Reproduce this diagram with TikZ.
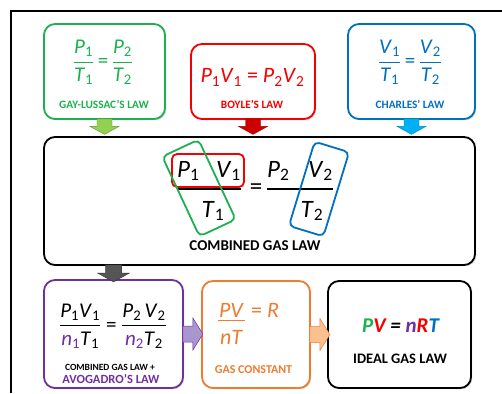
\documentclass[tikz,border=0pt]{standalone}
\usepackage{fontspec}
\usepackage{amsmath}
\setmainfont{Carlito}
\usetikzlibrary{shadows,calc}
\definecolor{cgreen}{RGB}{30,176,80}
\definecolor{cred}{RGB}{245,0,0}
\definecolor{cblue}{RGB}{0,112,192}
\definecolor{cpurple}{RGB}{112,48,160}
\definecolor{corange}{RGB}{237,125,49}
\definecolor{agreen}{RGB}{146,208,80}
\definecolor{ared}{RGB}{205,0,0}
\definecolor{ablue}{RGB}{0,176,240}
\definecolor{agray}{RGB}{85,85,85}
\definecolor{apurple}{RGB}{170,150,206}
\definecolor{aorange}{RGB}{250,192,144}
\newcommand\vv[2]{\textit{#1}\textsubscript{#2}}
\newcommand\myfr[2]{\genfrac{}{}{1pt}{0}{\mbox{#1}}{\mbox{#2}}}
\tikzset{
  box/.style={draw, line width=1.8pt, rounded corners=11pt, fill=white,
    drop shadow={shadow xshift=1.2pt, shadow yshift=-1.2pt, opacity=0.35}},
  lbl/.style={font=\fontsize{11.3}{13}\selectfont\bfseries, inner sep=0pt},
  eqn/.style={inner sep=0pt},
  pics/downarr/.style={code={\path[pic actions] (-7.5,-1) -- (7.5,-1) -- (7.5,6.5) -- (14.5,6.5) -- (0,14.5) -- (-14.5,6.5) -- (-7.5,6.5) -- cycle;}},
  pics/rightarr/.style={code={\path[pic actions] (-1,-8) -- (9,-8) -- (9,-16) -- (19,0) -- (9,16) -- (9,8) -- (-1,8) -- cycle;}},
}
\begin{document}
\begin{tikzpicture}[x=1pt,y=-1pt]
\useasboundingbox (0,0) rectangle (502,393);
\fill[white] (0,0) rectangle (502,393);
\draw[line width=2pt] (502,11) -- (11,11) -- (11,393);
% top boxes
\node[box, draw=cgreen, minimum width=121pt, minimum height=95pt] (gl) at (104.5,71.5) {};
\node[box, draw=cred, minimum width=124pt, minimum height=75pt] (bl) at (253,81.5) {};
\node[box, draw=cblue, minimum width=127pt, minimum height=95pt] (cl) at (411.5,71.5) {};
\node[eqn, text=cgreen, font=\fontsize{21}{24}\selectfont] (gleq) at (103,62.5) {$\myfr{\vv P1}{\vv T1}\,\mbox{=}\,\myfr{\vv P2}{\vv T2}$};
\node[lbl, text=cgreen] (gllbl) at (104,104) {GAY-LUSSAC’S LAW};
\node[eqn, text=cred, font=\fontsize{22}{26}\selectfont, anchor=base] (bleq) at (252.5,83) {\vv P1\vv V1 = \vv P2\vv V2};
\node[lbl, text=cred] (bllbl) at (252,104) {BOYLE’S LAW};
\node[eqn, text=cblue, font=\fontsize{21}{24}\selectfont] (cleq) at (410,62.5) {$\myfr{\vv V1}{\vv T1}\,\mbox{=}\,\myfr{\vv V2}{\vv T2}$};
\node[lbl, text=cblue] (cllbl) at (410,104) {CHARLES’ LAW};
% combined box
\node[box, draw=black, minimum width=431pt, minimum height=128pt] (cgl) at (259.5,201) {};
\pic[fill=agreen, draw=agreen!70!black, line width=0.4pt] at (gl.south) {downarr};
\pic[fill=ared, draw=ared!80!black, line width=0.4pt] at (bl.south) {downarr};
\pic[fill=ablue, draw=ablue!80!black, line width=0.4pt] at (cl.south) {downarr};
\begin{scope}[every node/.style={eqn, font=\fontsize{25}{30}\selectfont}]
\node[anchor=base west] (p1) at (177,177) {\vv P1};
\node[anchor=base east] (v1) at (241,177) {\vv V1};
\node[anchor=base] (t1) at (213,217) {\vv T1};
\node (eq1) at (256,189) {=};
\node[anchor=base west] (p2) at (267,177) {\vv P2};
\node[anchor=base east] (v2) at (333,177) {\vv V2};
\node[anchor=base] (t2) at (312,217) {\vv T2};
\end{scope}
\draw[line width=1.3pt] (p1.west |- 0,189) -- (v1.east |- 0,189);
\draw[line width=1.3pt] (p2.west |- 0,189) -- (v2.east |- 0,189);
\node[draw=cred, line width=1.8pt, rounded corners=5pt, minimum width=72pt, minimum height=33pt] (redr) at (208,170.5) {};
\node[draw=cgreen, line width=1.8pt, rounded corners=5pt, minimum width=40pt, minimum height=88pt, rotate=25] (grnr) at (199,188) {};
\node[draw=cblue, line width=1.8pt, rounded corners=5pt, minimum width=36pt, minimum height=88pt, rotate=-17] (blur) at (319,189) {};
\node[lbl, font=\fontsize{15}{17}\selectfont\bfseries] (cgllbl) at (255,246) {COMBINED GAS LAW};
% bottom boxes
\node[box, draw=cpurple, minimum width=139pt, minimum height=108pt] (pb) at (113.5,334) {};
\node[box, draw=corange, minimum width=108pt, minimum height=107pt] (ob) at (256,334.5) {};
\node[box, draw=black, minimum width=143pt, minimum height=107pt] (ib) at (399.5,334.5) {};
\pic[fill=agray, draw=black!80, line width=0.4pt, scale=1.1] at (cgl.south -| pb.north) {downarr};
\pic[fill=apurple, draw=cpurple, line width=0.5pt] at (pb.east) {rightarr};
\pic[fill=aorange, draw=corange, line width=0.5pt] at (ob.east) {rightarr};
\node[eqn, font=\fontsize{21}{25}\selectfont] (pbeq) at (113,326) {$\myfr{\vv P1\vv V1}{\textcolor{cpurple}{\vv n1}\vv T1}\mbox{ = }\myfr{\vv P2\,\vv V2}{\textcolor{cpurple}{\vv n2}\vv T2}$};
\node[lbl, font=\fontsize{9.5}{11}\selectfont\bfseries] (pblbl1) at (110,367) {COMBINED GAS LAW +};
\node[lbl, font=\fontsize{12.5}{14}\selectfont\bfseries, text=cpurple] (pblbl2) at (111,379) {AVOGADRO’S LAW};
\begin{scope}[every node/.style={eqn, text=corange, font=\fontsize{22}{26}\selectfont}]
\node[anchor=base] (pv) at (231.5,317) {\textit{PV}};
\node[anchor=base] (nt) at (231.5,344) {\textit{nT}};
\node[anchor=base west] (er) at (251,317) {= \textit{R}};
\end{scope}
\draw[corange, line width=1.2pt] (218,320.5) -- (245,320.5);
\node[lbl, font=\fontsize{12}{14}\selectfont\bfseries, text=corange] (oblbl) at (253.5,370) {GAS CONSTANT};
\node[eqn, anchor=base, font=\fontsize{21}{25}\selectfont\bfseries\itshape] (ideq) at (400.5,332) {\textcolor{cgreen}{P}\textcolor{cred}{V} = \textcolor{cpurple}{n}\textcolor{cred}{R}\textcolor{cblue}{T}};
\node[lbl, font=\fontsize{14.5}{16}\selectfont\bfseries] (iblbl) at (400,359) {IDEAL GAS LAW};
\end{tikzpicture}
\end{document}
